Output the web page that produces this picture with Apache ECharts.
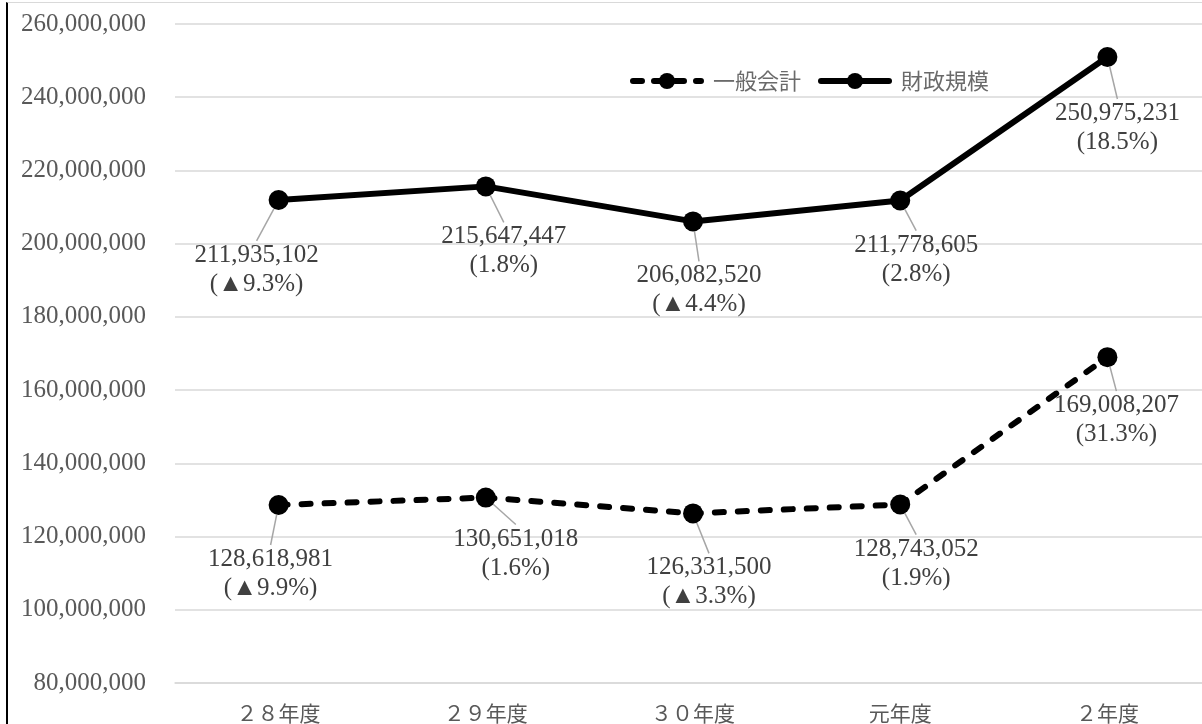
<!DOCTYPE html>
<html>
<head>
<meta charset="utf-8">
<script src="https://cdn.jsdelivr.net/npm/echarts@6/dist/echarts.min.js"></script>
<style>
  html, body { margin: 0; padding: 0; background: #fff; }
  #wrap { position: relative; width: 1202px; height: 724px; overflow: hidden; }
  #chart { position: absolute; left: 0; top: 0; width: 1230px; height: 724px; }
  #frame { position: absolute; left: 6px; top: 2px; width: 1300px; height: 800px;
           border-left: 2px solid #000; border-top: 1px solid #d9d9d9; pointer-events: none; }
</style>
</head>
<body>
<div id="wrap">
  <div id="chart"></div>
  <div id="frame"></div>
</div>
<script>
// 年度別の決算規模（円）と対前年度伸び率
const categories = ['２８年度', '２９年度', '３０年度', '元年度', '２年度'];
const generalAccount = [128618981, 130651018, 126331500, 128743052, 169008207];
const generalRate = ['▲9.9%', '1.6%', '▲3.3%', '1.9%', '31.3%'];
const fiscalScale = [211935102, 215647447, 206082520, 211778605, 250975231];
const fiscalRate = ['▲9.3%', '1.8%', '▲4.4%', '2.8%', '18.5%'];
const yTicks = { min: 80000000, max: 260000000, interval: 20000000 };

// ラベルの引き出し位置（点からのずれ, px）
const labelShift = [
  [[-8, 69], [30, 56], [16, 69], [16, 59], [9, 63]],
  [[-22, 70], [18, 65], [6, 69], [16, 59], [10, 71]]
];

const serif = '"Liberation Serif", "DejaVu Serif", "Noto Sans CJK JP", serif';
const cjk = '"Noto Sans CJK JP", sans-serif';

function fmt(v) { return v.toString().replace(/\B(?=(\d{3})+(?!\d))/g, ','); }

function makeSeries(name, values, rates, dashed, idx) {
  return {
    name: name,
    type: 'line',
    data: values,
    symbol: 'circle',
    symbolSize: 20,
    itemStyle: { color: '#000' },
    lineStyle: { color: '#000', width: 6, type: dashed ? [9, 14] : 'solid', cap: 'round' },
    label: {
      show: true,
      position: 'inside',
      formatter: p => fmt(p.value) + '\n(' + rates[p.dataIndex] + ')',
      fontFamily: serif,
      fontSize: 25,
      lineHeight: 29,
      color: '#404040',
      align: 'center'
    },
    labelLine: { show: true, lineStyle: { color: '#a6a6a6', width: 1.5 } },
    labelLayout: p => ({ dx: labelShift[idx][p.dataIndex][0], dy: labelShift[idx][p.dataIndex][1] }),
    emphasis: { disabled: true },
    animation: false
  };
}

const chart = echarts.init(document.getElementById('chart'));
chart.setOption({
  animation: false,
  backgroundColor: 'transparent',
  grid: { left: 175, top: 24, width: 1036, height: 659, containLabel: false },
  legend: {
    left: 625, top: 65,
    itemWidth: 68, itemHeight: 20, itemGap: 17,
    textStyle: { fontFamily: cjk, fontSize: 22, color: '#6a6a6a', padding: [0, 0, 0, 7] },
    data: [
      { name: '一般会計', lineStyle: { width: 6, type: [9, 12], cap: 'round' } },
      { name: '財政規模', lineStyle: { width: 6, type: 'solid', cap: 'round' } }
    ]
  },
  xAxis: {
    type: 'category',
    data: categories,
    boundaryGap: true,
    axisLine: { lineStyle: { color: '#d9d9d9', width: 1.5 } },
    axisTick: { show: false },
    axisLabel: { fontFamily: cjk, fontSize: 21, color: '#595959', margin: 20 }
  },
  yAxis: {
    type: 'value',
    min: yTicks.min, max: yTicks.max, interval: yTicks.interval,
    axisLine: { show: false },
    axisTick: { show: false },
    splitLine: { lineStyle: { color: '#d9d9d9', width: 1.5 } },
    axisLabel: { fontFamily: serif, fontSize: 25, color: '#595959', margin: 29, formatter: v => fmt(v) }
  },
  series: [
    makeSeries('一般会計', generalAccount, generalRate, true, 0),
    makeSeries('財政規模', fiscalScale, fiscalRate, false, 1)
  ]
});
</script>
</body>
</html>
